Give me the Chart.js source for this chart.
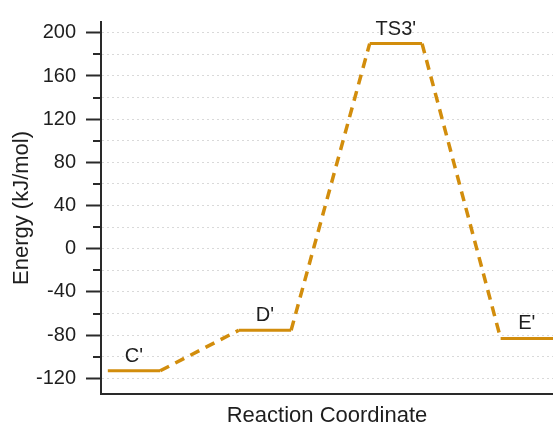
<!DOCTYPE html>
<html><head><meta charset="utf-8">
<script src="https://cdn.jsdelivr.net/npm/chart.js@4"></script>
<style>html,body{margin:0;padding:0;background:#fff;}canvas{display:block;}</style>
</head><body>
<canvas id="c" width="553" height="429"></canvas>
<script>
// ---- data ----
const stateLabels = ["C'", "D'", "TS3'", "E'"];
const stateStart  = [0, 2.5, 5, 7.5];      // reaction coordinate where each level starts
const stateEnd    = [1, 3.5, 6, 8.5];      // reaction coordinate where each level ends
const stateEnergy = [-113, -75.5, 190, -83]; // kJ/mol
const yTickValues = [-120, -80, -40, 0, 40, 80, 120, 160, 200];
const yTickLabels = ['-120', '-80', '-40', '0', '40', '80', '120', '160', '200'];

const ORANGE = '#D28D0C';
const FONT = 'Liberation Sans, Arial, Helvetica, sans-serif';
const TEXT = '#1e1e1e';
const AXIS = '#2a2a2a';

const levelSets = stateLabels.map((lab, i) => ({
  label: lab,
  data: [{x: stateStart[i], y: stateEnergy[i]}, {x: stateEnd[i], y: stateEnergy[i]}],
  borderColor: ORANGE, borderWidth: 3, pointRadius: 0, fill: false, tension: 0
}));
const linkSets = stateLabels.slice(1).map((lab, k) => ({
  label: 'link' + k,
  data: [{x: stateEnd[k], y: stateEnergy[k]}, {x: stateStart[k + 1], y: stateEnergy[k + 1]}],
  borderColor: ORANGE, borderWidth: 3.5, borderDash: [10, 7], pointRadius: 0, fill: false, tension: 0
}));

const stateLabelPlugin = {
  id: 'stateLabels',
  afterDatasetsDraw(chart) {
    const {ctx, scales: {x, y}} = chart;
    ctx.save();
    ctx.font = '20px ' + FONT;
    ctx.fillStyle = TEXT;
    ctx.textAlign = 'center';
    ctx.textBaseline = 'alphabetic';
    stateLabels.forEach((lab, i) => {
      const cx = x.getPixelForValue((stateStart[i] + stateEnd[i]) / 2);
      const cy = y.getPixelForValue(stateEnergy[i]);
      ctx.fillText(lab, cx, cy - 9);
    });
    ctx.restore();
  }
};

const minorTickPlugin = {
  id: 'minorTicks',
  afterDraw(chart) {
    const {ctx, chartArea, scales: {y}} = chart;
    ctx.save();
    ctx.strokeStyle = AXIS;
    ctx.lineWidth = 2;
    y.ticks.forEach(t => {
      if (yTickValues.indexOf(t.value) >= 0) return;
      const py = Math.round(y.getPixelForValue(t.value));
      ctx.beginPath();
      ctx.moveTo(chartArea.left - 8, py);
      ctx.lineTo(chartArea.left, py);
      ctx.stroke();
    });
    ctx.restore();
  }
};

new Chart(document.getElementById('c'), {
  type: 'line',
  data: { datasets: [...levelSets, ...linkSets] },
  options: {
    responsive: false,
    devicePixelRatio: 1,
    animation: false,
    layout: { padding: { top: 21, left: 0, right: 0, bottom: 0 } },
    plugins: { legend: { display: false }, tooltip: { enabled: false } },
    scales: {
      x: {
        type: 'linear', min: -0.13, max: 8.5,
        ticks: { display: false },
        grid: { display: false },
        border: { display: true, color: AXIS, width: 2 },
        title: { display: true, text: 'Reaction Coordinate', color: TEXT,
                 font: { size: 22, family: FONT }, padding: { top: 8, bottom: 0 } },
        afterFit(s) { s.height = 35; }
      },
      y: {
        type: 'linear', min: -134.5, max: 210,
        ticks: {
          stepSize: 20, includeBounds: false, autoSkip: false, color: TEXT, padding: 10,
          font: { size: 20, family: FONT },
          callback: (v) => { const i = yTickValues.indexOf(v); return i >= 0 ? yTickLabels[i] : ''; }
        },
        grid: {
          color: '#d9d9d9', lineWidth: 1, tickLength: 15, tickWidth: 2,
          tickColor: (c) => (c.tick && yTickValues.indexOf(c.tick.value) >= 0) ? AXIS : 'rgba(0,0,0,0)'
        },
        border: { display: true, color: AXIS, width: 2, dash: [2, 3] },
        title: { display: true, text: 'Energy (kJ/mol)', color: TEXT,
                 font: { size: 22, family: FONT }, padding: { top: 9, bottom: 0 } },
        afterFit(s) { s.width = 101; }
      }
    }
  },
  plugins: [stateLabelPlugin, minorTickPlugin]
});
</script>
</body></html>
